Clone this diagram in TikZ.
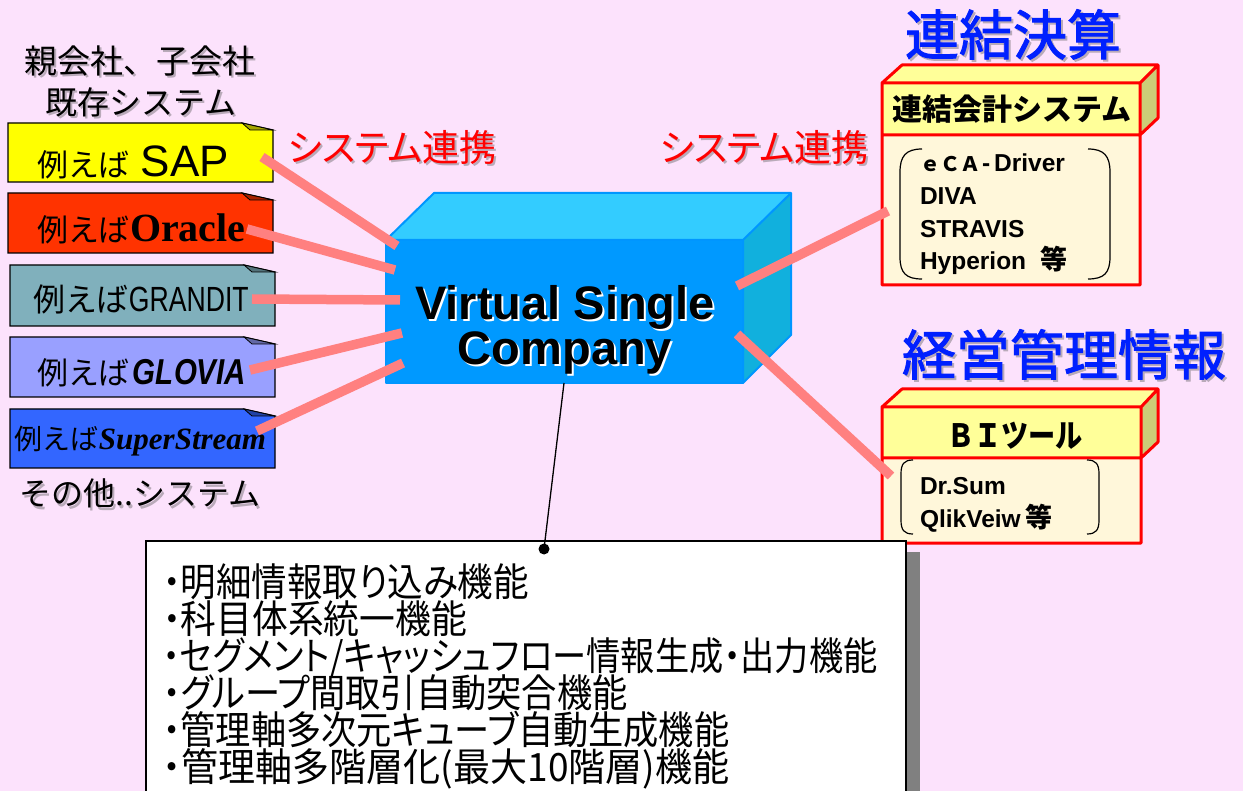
\documentclass[tikz,border=0pt]{standalone}
\usepackage{fontspec}
\usepackage{graphicx}
\setmainfont{Liberation Sans}
\newfontfamily\jp{Noto Sans CJK JP}
\newfontfamily\jpp{Noto Sans CJK JP}[RawFeature=+palt]
\newfontfamily\jpm{Noto Sans CJK JP}[BoldFont={Noto Sans CJK JP}, BoldFeatures={FakeBold=1.8}]
\newfontfamily\tms{Liberation Serif}
\usetikzlibrary{calc}
\definecolor{bg}{RGB}{252,226,252}
\definecolor{sapY}{RGB}{255,255,0}
\definecolor{oraR}{RGB}{255,51,0}
\definecolor{graT}{RGB}{128,176,188}
\definecolor{gloL}{RGB}{153,160,255}
\definecolor{supB}{RGB}{51,102,255}
\definecolor{linkc}{RGB}{255,128,128}
\definecolor{cubeF}{RGB}{0,153,255}
\definecolor{cubeT}{RGB}{51,204,255}
\definecolor{cubeS}{RGB}{17,176,221}
\definecolor{cubeE}{RGB}{0,150,255}
\definecolor{hdrY}{RGB}{255,255,153}
\definecolor{hdrS}{RGB}{204,204,119}
\definecolor{bodyY}{RGB}{255,247,218}
\definecolor{ttlB}{RGB}{0,32,255}
\definecolor{shd}{RGB}{185,170,185}
\definecolor{boxsh}{RGB}{128,128,128}
\newcommand\fs[1]{\fontsize{#1}{#1}\selectfont}
\newcommand\lbox[5]{%
  \draw[line width=1.2pt, fill=#5] (#1,#2) -- (#3-31,#2) -- (#3,#2+7) -- (#3,#4) -- (#1,#4) -- cycle;
  \draw[line width=0.8pt, fill=#5!65!black] (#3-31,#2) -- (#3-23,#2+7) -- (#3,#2+7) -- cycle;}
\newcommand\stxt[5]{%
  \node[#3, text=#4] (#1s) at ($#2+(2,2)$) {#5};
  \node[#3] (#1) at #2 {#5};}
\newcommand\lst[4]{\node[txt, anchor=base west] (#1) at (163,#2) {\scalebox{#3}[1]{\jpp\fs{39}#4}};}
\tikzset{
  txt/.style={inner sep=0pt, outer sep=0pt},
  linkline/.style={linkc, line width=9.5pt},
}
\begin{document}
\begin{tikzpicture}[x=1pt,y=-1pt]
\useasboundingbox (0,0) rectangle (1243,791);
\fill[bg] (0,0) rectangle (1243,791);

% left headings
\stxt{hA}{(140,74)}{txt, anchor=base, font=\jp\fs{33}}{shd}{親会社、子会社}
\stxt{hB}{(141,115)}{txt, anchor=base, font=\jp\fs{32}}{shd}{既存システム}
\stxt{hC}{(140,506)}{txt, anchor=base, font=\jp\fs{32}}{shd}{その他..システム}

% left boxes
\lbox{8}{123}{273}{182}{sapY}
\lbox{8}{193}{273}{253}{oraR}
\lbox{10}{265}{275}{326}{graT}
\lbox{10}{337}{275}{397}{gloL}
\lbox{10}{409}{275}{468}{supB}
\node[txt, anchor=base west] (sap) at (37,177) {{\jp\fs{31}例えば}\hspace{11pt}{\fs{44}SAP}};
\node[txt, anchor=base west] (ora) at (37,242) {{\jp\fs{31}例えば}{\tms\bfseries\fs{40}Oracle}};
\node[txt, anchor=base west] (gra) at (33,312) {{\jp\fs{32}例えば}\scalebox{0.76}[1]{\fs{35}GRANDIT}};
\node[txt, anchor=base west] (glo) at (37,385) {{\jp\fs{31}例えば}\hspace{3pt}\scalebox{0.82}[1]{\bfseries\itshape\fs{36}GLOVIA}};
\node[txt, anchor=base west] (sup) at (15,450) {{\jp\fs{28}例えば}{\tms\bfseries\itshape\fs{31}SuperStream}};

% cube
\fill[cubeT] (386,240) -- (434,193) -- (791,193) -- (743,240) -- cycle;
\fill[cubeS] (743,240) -- (791,193) -- (791,335) -- (743,383) -- cycle;
\fill[cubeF] (386,240) rectangle (743,383);
\draw[cubeE, line width=2pt, line join=round] (386,240) -- (434,193) -- (791,193) -- (791,335) -- (743,383) -- (386,383) -- cycle
  (386,240) -- (743,240) -- (791,193) (743,240) -- (743,383);
\stxt{vA}{(565,320)}{txt, anchor=base, font=\bfseries\fs{47}}{white}{Virtual Single}
\stxt{vB}{(565,365)}{txt, anchor=base, font=\bfseries\fs{47}}{white}{Company}

% link labels
\stxt{sl}{(288,162)}{txt, anchor=base west, font=\jpp\fs{37}, text=red}{shd}{システム連携}
\stxt{sr}{(660,162)}{txt, anchor=base west, font=\jpp\fs{37}, text=red}{shd}{システム連携}

% titles
\stxt{tA}{(905,55)}{txt, anchor=base west, font=\jpm\bfseries\fs{54}, text=ttlB}{shd}{連結決算}
\stxt{tB}{(902,375)}{txt, anchor=base west, font=\jpm\bfseries\fs{54}, text=ttlB}{shd}{経営管理情報}

% right box 1
\fill[hdrY] (882,83) -- (902,65) -- (1158,65) -- (1140,83) -- cycle;
\fill[hdrS] (1140,83) -- (1158,65) -- (1158,118) -- (1140,135) -- cycle;
\fill[hdrY] (882,83) rectangle (1140,135);
\fill[bodyY] (882,135) rectangle (1140,285);
\draw[red, line width=3pt, line join=round] (882,285) -- (882,83) -- (902,65) -- (1158,65) -- (1158,118) -- (1140,135) -- (1140,285) -- cycle
  (882,83) -- (1140,83) -- (1158,65) (1140,83) -- (1140,135) (882,135) -- (1140,135);
\node[txt, anchor=base west, font=\jp\bfseries\fs{30}] (h1) at (892,121) {連結会計システム};
\draw[line width=1.2pt] (922,149) .. controls (906,149) and (900,156) .. (900,172) -- (900,257) .. controls (900,273) and (906,279) .. (922,279);
\draw[line width=1.2pt] (1088,149) .. controls (1104,149) and (1110,156) .. (1110,172) -- (1110,257) .. controls (1110,273) and (1104,279) .. (1088,279);
\node[txt, anchor=base west, font=\bfseries\fs{24.5}] (c1) at (920,172) {{\jp\fs{20}ｅＣＡ}\hspace{2pt}-\hspace{4pt}Driver};
\node[txt, anchor=base west, font=\bfseries\fs{24.5}] (c2) at (920,205) {DIVA};
\node[txt, anchor=base west, font=\bfseries\fs{24.5}] (c3) at (920,238) {STRAVIS};
\node[txt, anchor=base west, font=\bfseries\fs{24.5}] (c4) at (920,270) {Hyperion\hspace{14pt}{\jp\fs{27}等}};

% right box 2
\fill[hdrY] (882,407) -- (902,389) -- (1158,389) -- (1141,407) -- cycle;
\fill[hdrS] (1141,407) -- (1158,389) -- (1158,442) -- (1141,458) -- cycle;
\fill[hdrY] (882,407) rectangle (1141,458);
\fill[bodyY] (882,458) rectangle (1141,543);
\draw[red, line width=3pt, line join=round] (882,543) -- (882,407) -- (902,389) -- (1158,389) -- (1158,442) -- (1141,458) -- (1141,543) -- cycle
  (882,407) -- (1141,407) -- (1158,389) (1141,407) -- (1141,458) (882,458) -- (1141,458);
\node[txt, anchor=base, font=\jp\bfseries\fs{32}] (h2) at (1015,448) {\scalebox{0.85}[1]{ＢＩツール}};
\draw[line width=1.2pt] (913,460) .. controls (904,460) and (901,464) .. (901,474) -- (901,520) .. controls (901,530) and (904,534) .. (913,534);
\draw[line width=1.2pt] (1087,460) .. controls (1096,460) and (1099,464) .. (1099,474) -- (1099,520) .. controls (1099,530) and (1096,534) .. (1087,534);
\node[txt, anchor=base west, font=\bfseries\fs{24.5}] (d1) at (920,495) {Dr.Sum};
\node[txt, anchor=base west, font=\bfseries\fs{24.5}] (d2) at (920,528) {QlikVeiw\hspace{5pt}{\jp\fs{27}等}};

% links
\coordinate (e1) at (262,157); \coordinate (f1) at (397,246);
\coordinate (e2) at (247,229); \coordinate (f2) at (395,270);
\coordinate (e3) at (252,299); \coordinate (f3) at (400,300);
\coordinate (e4) at (250,370); \coordinate (f4) at (402,333);
\coordinate (e5) at (257,431); \coordinate (f5) at (403,363);
\coordinate (g1) at (737,286); \coordinate (k1) at (888,211);
\coordinate (g2) at (737,334); \coordinate (k2) at (891,476);
\draw[linkline] (e1) -- (f1);
\draw[linkline] (e2) -- (f2);
\draw[linkline] (e3) -- (f3);
\draw[linkline] (e4) -- (f4);
\draw[linkline] (e5) -- (f5);
\draw[linkline] (g1) -- (k1);
\draw[linkline] (g2) -- (k2);

% function box
\fill[boxsh] (906,552) rectangle (920,800);
\draw[line width=1.3pt, fill=white] (146,541) rectangle (906,800);
\lst{l0}{596}{0.91}{・明細情報取り込み機能}
\lst{l1}{633}{0.917}{・科目体系統一機能}
\lst{l2}{670}{0.877}{・セグメント/キャッシュフロー情報生成・出力機能}
\lst{l3}{707}{0.903}{・グループ間取引自動突合機能}
\lst{l4}{744}{0.903}{・管理軸多次元キューブ自動生成機能}
\lst{l5}{781}{0.95}{・管理軸多階層化(最大10階層)機能}
\coordinate (cb) at (564,383);
\node[circle, fill=black, inner sep=0pt, minimum size=11pt] (dot) at (544,549) {};
\draw[line width=1.3pt] (cb) -- (dot.center);
\end{tikzpicture}
\end{document}
